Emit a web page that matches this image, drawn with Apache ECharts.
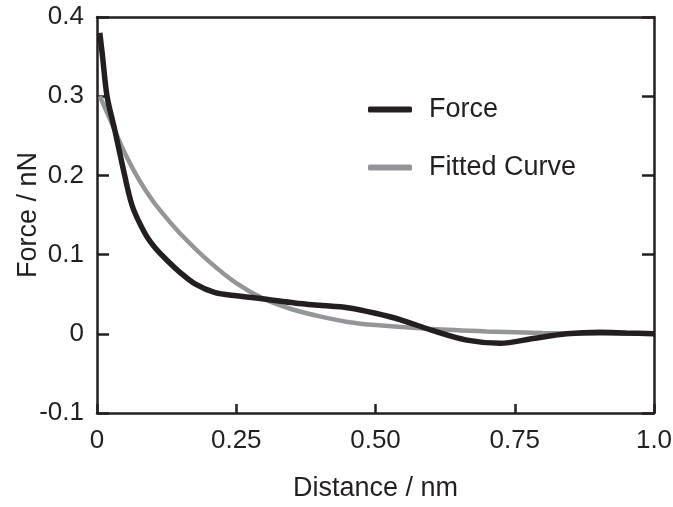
<!DOCTYPE html>
<html>
<head>
    <meta charset="utf-8">
    <title>Force curve</title>
    <script src="https://cdn.jsdelivr.net/npm/echarts/dist/echarts.min.js"></script>
</head>
<body style="margin:0;background:#fff;">
    <div id="main" style="width: 673px;height:507px;"></div>
    <script>
        // measured force (black)
        var forceX = [0.005, 0.01, 0.018, 0.032, 0.045, 0.063, 0.086, 0.105, 0.127, 0.15, 0.176, 0.212, 0.25, 0.3, 0.355, 0.4, 0.45, 0.5, 0.544, 0.603, 0.664, 0.724, 0.783, 0.843, 0.903, 0.95, 1.0];
        var forceY = [0.38, 0.35, 0.30, 0.257, 0.215, 0.162, 0.127, 0.108, 0.092, 0.077, 0.063, 0.052, 0.048, 0.044, 0.039, 0.036, 0.033, 0.026, 0.018, 0.004, -0.008, -0.012, -0.006, 0.0, 0.002, 0.001, 0.0];

        // fitted curve (grey)
        var fitX = [0.005, 0.03, 0.05, 0.075, 0.1, 0.125, 0.15, 0.2, 0.25, 0.3, 0.35, 0.4, 0.45, 0.5, 0.6, 0.7, 0.8, 0.9, 1.0];
        var fitY = [0.30, 0.26, 0.228, 0.195, 0.168, 0.146, 0.126, 0.092, 0.064, 0.044, 0.031, 0.022, 0.015, 0.011, 0.006, 0.003, 0.001, 0.0, 0.0];

        var xTicks = { '0': '0', '0.25': '0.25', '0.5': '0.50', '0.75': '0.75', '1': '1.0' };

        function pairs(xs, ys) {
            return xs.map(function (x, i) { return [x, ys[i]]; });
        }

        var chart = echarts.init(document.getElementById('main'));
        var ink = '#231f20';
        var axisLine = { show: true, onZero: false, lineStyle: { color: ink, width: 2.5 } };
        var xTick = { show: true, inside: true, length: 9, lineStyle: { color: ink, width: 2.5 } };
        var yTick = { show: true, inside: true, length: 12, lineStyle: { color: ink, width: 2.5 } };
        var font = 'Liberation Sans, Arial, sans-serif';
        var tickFont = { color: ink, fontSize: 26, fontFamily: font };
        var nameFont = { color: ink, fontSize: 27, fontFamily: font };

        var option = {
            animation: false,
            backgroundColor: '#fff',
            grid: { left: 97, right: 19, top: 17, bottom: 94, outerBoundsMode: 'none', containLabel: false },
            legend: {
                orient: 'vertical',
                left: 363,
                top: 91,
                itemWidth: 44,
                itemHeight: 6,
                itemGap: 31,
                icon: 'roundRect',
                textStyle: { color: ink, fontSize: 27, fontFamily: font, lineHeight: 27, padding: [0, 0, 0, 12] },
                data: ['Force', 'Fitted Curve']
            },
            xAxis: [{
                type: 'value', min: 0, max: 1, interval: 0.25,
                name: 'Distance / nm', nameLocation: 'middle', nameGap: 62, nameMoveOverlap: false,
                nameTextStyle: nameFont,
                axisLine: axisLine, axisTick: xTick, splitLine: { show: false },
                axisLabel: Object.assign({ margin: 15, formatter: function (v) { return xTicks[String(v)]; } }, tickFont)
            }, {
                type: 'value', min: 0, max: 1, interval: 0.25, position: 'top',
                axisLine: axisLine, axisTick: { show: false }, axisLabel: { show: false }, splitLine: { show: false }
            }],
            yAxis: [{
                type: 'value', min: -0.1, max: 0.4, interval: 0.1,
                name: 'Force / nN', nameLocation: 'middle', nameGap: 55, nameMoveOverlap: false,
                nameTextStyle: nameFont,
                axisLine: axisLine, axisTick: yTick, splitLine: { show: false },
                axisLabel: Object.assign({ margin: 13, formatter: function (v) { return Math.abs(v) < 1e-9 ? '0' : v.toFixed(1); } }, tickFont)
            }, {
                type: 'value', min: -0.1, max: 0.4, interval: 0.1, position: 'right',
                axisLine: axisLine, axisTick: yTick, axisLabel: { show: false }, splitLine: { show: false }
            }],
            series: [{
                name: 'Fitted Curve', type: 'line', smooth: 0.3, symbol: 'none',
                itemStyle: { color: '#939598' },
                lineStyle: { color: '#939598', width: 4.5 },
                data: pairs(fitX, fitY), z: 2
            }, {
                name: 'Force', type: 'line', smooth: 0.3, symbol: 'none',
                itemStyle: { color: ink },
                lineStyle: { color: ink, width: 5.5 },
                data: pairs(forceX, forceY), z: 3
            }]
        };
        chart.setOption(option);
    </script>
</body>
</html>
